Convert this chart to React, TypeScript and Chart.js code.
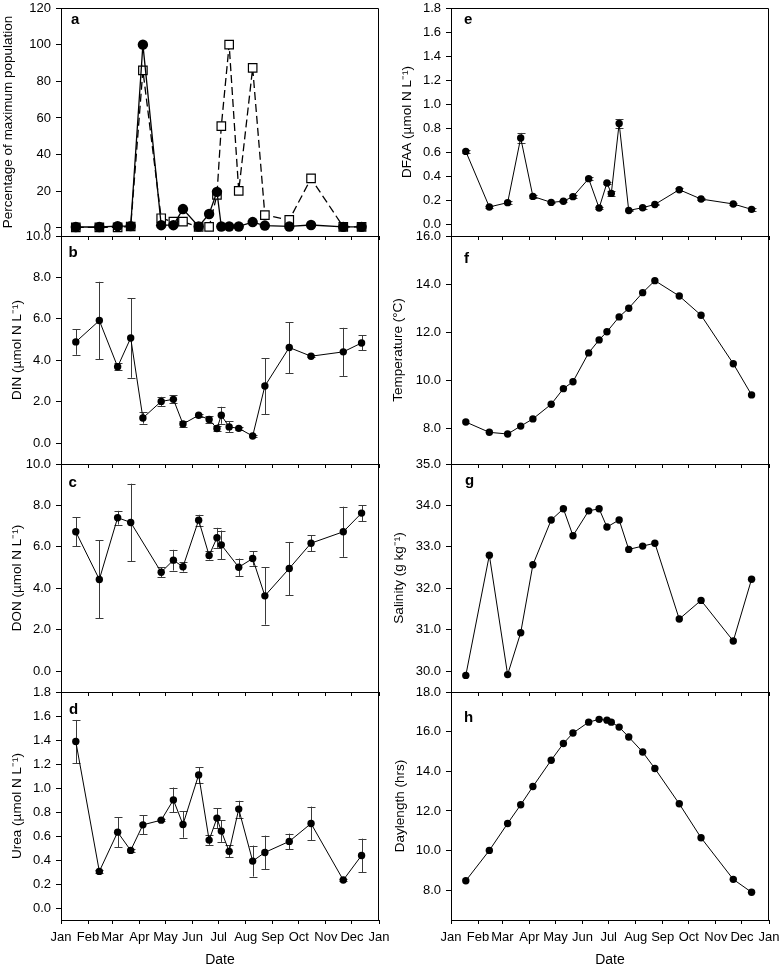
import React, { useEffect, useRef } from "react";
import { Chart, registerables } from "chart.js";

Chart.register(...registerables);

const FONT = "'Liberation Sans', Arial, Helvetica, sans-serif";

// ---------- x axis (day of year) ----------
const MONTH_STARTS = [0, 31, 59, 90, 120, 151, 181, 212, 243, 273, 304, 334, 365];
const MONTH_LABELS = ["Jan", "Feb", "Mar", "Apr", "May", "Jun", "Jul", "Aug", "Sep", "Oct", "Nov", "Dec", "Jan"];

// sampling dates, day of year
const SAMPLE_DAYS = [17, 44, 65, 80, 94, 115, 129, 140, 158, 170, 179, 184, 193, 204, 220, 234, 262, 287, 324, 345];

// ---------- panel a: percentage of maximum population ----------
const POP_CIRCLES = [0.5, 0.5, 1, 1, 100, 1.5, 1.5, 10.3, 0.8, 7.6, 19.7, 0.8, 0.8, 0.8, 3.2, 1.3, 0.8, 1.6, 0.6, 0.6];
const POP_SQUARES = [0.3, 0.3, 0.3, 0.8, 86, 5.3, 3.4, 3.4, 0.5, 0.6, 18, 55.5, 100, 20.2, 87.3, 7, 4.4, 27, 0.6, 0.6];
const TICKS_A = [0, 20, 40, 60, 80, 100, 120];

// ---------- panel b: DIN ----------
const DIN = [4.89, 5.92, 3.69, 5.08, 1.22, 2.02, 2.12, 0.93, 1.35, 1.15, 0.71, 1.35, 0.79, 0.72, 0.35, 2.76, 4.62, 4.2, 4.41, 4.84];
const DIN_ERR = [0.62, 1.87, 0.16, 1.92, 0.27, 0.22, 0.2, 0.14, 0.06, 0.16, 0.1, 0.41, 0.27, 0.08, 0.07, 1.35, 1.23, 0.05, 1.16, 0.36];
const TICKS_B = [0, 2, 4, 6, 8, 10];

// ---------- panel c: DON ----------
const DON = [6.73, 4.43, 7.41, 7.18, null, 4.78, 5.36, 5.04, 7.29, 5.59, 6.44, 6.1, null, 5.02, 5.44, 3.64, 4.96, 6.18, 6.73, 7.63];
const DON_ERR = [0.7, 1.88, 0.33, 1.87, null, 0.25, 0.5, 0.23, 0.26, 0.2, 0.48, 0.69, null, 0.42, 0.34, 1.39, 1.28, 0.39, 1.21, 0.38];
const TICKS_C = [0, 2, 4, 6, 8, 10];

// ---------- panel d: Urea ----------
const UREA = [1.387, 0.305, 0.632, 0.48, 0.693, 0.732, 0.901, 0.696, 1.109, 0.566, 0.749, 0.641, 0.472, 0.824, 0.391, 0.463, 0.555, 0.704, 0.233, 0.438];
const UREA_ERR = [0.18, 0.012, 0.125, 0.015, 0.078, 0.01, 0.103, 0.11, 0.065, 0.04, 0.083, 0.09, 0.05, 0.07, 0.129, 0.14, 0.065, 0.141, 0.012, 0.14];
const TICKS_D = [0, 0.2, 0.4, 0.6, 0.8, 1.0, 1.2, 1.4, 1.6, 1.8];

// ---------- panel e: DFAA ----------
const DFAA = [0.605, 0.142, 0.178, 0.717, 0.23, 0.18, 0.19, 0.228, 0.378, 0.133, 0.342, 0.255, 0.838, 0.113, 0.136, 0.163, 0.286, 0.208, 0.167, 0.122];
const DFAA_ERR = [0.01, 0.01, 0.01, 0.042, 0.01, 0.005, 0.01, 0.01, 0.01, 0.01, 0.01, 0.02, 0.0375, 0.005, 0.01, 0.005, 0.01, 0.005, 0.005, 0.01];
const TICKS_E = [0, 0.2, 0.4, 0.6, 0.8, 1.0, 1.2, 1.4, 1.6, 1.8];

// ---------- panel f: Temperature ----------
const TEMPERATURE = [8.25, 7.82, 7.75, 8.08, 8.38, 8.99, 9.64, 9.93, 11.13, 11.67, 12.01, null, 12.63, 12.99, 13.64, 14.14, 13.5, 12.7, 10.68, 9.38];
const TICKS_F = [8, 10, 12, 14, 16];

// ---------- panel g: Salinity ----------
const SALINITY = [29.9, 32.8, 29.92, 30.93, 32.57, 33.65, 33.92, 33.27, 33.87, 33.92, 33.48, null, 33.65, 32.94, 33.02, 33.09, 31.26, 31.71, 30.73, 32.22];
const TICKS_G = [30, 31, 32, 33, 34, 35];

// ---------- panel h: Daylength ----------
const DAYLENGTH = [8.48, 10.01, 11.37, 12.31, 13.23, 14.56, 15.4, 15.93, 16.48, 16.62, 16.58, 16.48, 16.23, 15.73, 14.97, 14.14, 12.36, 10.65, 8.55, 7.9];
const TICKS_H = [8, 10, 12, 14, 16, 18];

// ---------- layout ----------
type SeriesStyle = "dot" | "bigdot" | "square";
type Series = { values: (number | null)[]; errors?: (number | null)[]; style: SeriesStyle };
type PanelCfg = {
  letter: string;
  col: number;
  row: number;
  title: string;
  min: number;
  max: number;
  ticks: number[];
  decimals: number;
  titleCenter: number;
  letterDx: number;
  letterDy: number;
  series: Series[];
};

const COL_LEFT = [0, 392];
const AXIS_WIDTH = [61, 59];
const PLOT_W = 318;
const RIGHT_PAD = 22;
const PLOT_TOPS = [8, 236, 464, 692];
const PLOT_H = 228;
const TOP_PAD = 16;
const BOTTOM_AXIS_H = 50;
const INNER_AXIS_H = 16;

const PANELS: PanelCfg[] = [
  { letter: "a", col: 0, row: 0, title: "Percentage of maximum population", min: -4.4, max: 120, ticks: TICKS_A, decimals: 0, titleCenter: 8, letterDx: 10, letterDy: 15.5,
    series: [{ values: POP_CIRCLES, style: "bigdot" }, { values: POP_SQUARES, style: "square" }] },
  { letter: "b", col: 0, row: 1, title: "DIN (µmol N L\u207B\u00B9)", min: -1, max: 10, ticks: TICKS_B, decimals: 1, titleCenter: 17, letterDx: 7.5, letterDy: 21,
    series: [{ values: DIN, errors: DIN_ERR, style: "dot" }] },
  { letter: "c", col: 0, row: 2, title: "DON (µmol N L\u207B\u00B9)", min: -1, max: 10, ticks: TICKS_C, decimals: 1, titleCenter: 17, letterDx: 7.5, letterDy: 22.5,
    series: [{ values: DON, errors: DON_ERR, style: "dot" }] },
  { letter: "d", col: 0, row: 3, title: "Urea (µmol N L\u207B\u00B9)", min: -0.1, max: 1.8, ticks: TICKS_D, decimals: 1, titleCenter: 17, letterDx: 8, letterDy: 21.5,
    series: [{ values: UREA, errors: UREA_ERR, style: "dot" }] },
  { letter: "e", col: 1, row: 0, title: "DFAA (µmol N L\u207B\u00B9)", min: -0.1, max: 1.8, ticks: TICKS_E, decimals: 1, titleCenter: 15, letterDx: 13, letterDy: 15.5,
    series: [{ values: DFAA, errors: DFAA_ERR, style: "dot" }] },
  { letter: "f", col: 1, row: 1, title: "Temperature (°C)", min: 6.5, max: 16, ticks: TICKS_F, decimals: 1, titleCenter: 6.5, letterDx: 13, letterDy: 26.5,
    series: [{ values: TEMPERATURE, style: "dot" }] },
  { letter: "g", col: 1, row: 2, title: "Salinity (g kg\u207B\u00B9)", min: 29.5, max: 35, ticks: TICKS_G, decimals: 1, titleCenter: 7.5, letterDx: 14, letterDy: 20.5,
    series: [{ values: SALINITY, style: "dot" }] },
  { letter: "h", col: 1, row: 3, title: "Daylength (hrs)", min: 6.5, max: 18, ticks: TICKS_H, decimals: 1, titleCenter: 8, letterDx: 13, letterDy: 30,
    series: [{ values: DAYLENGTH, style: "dot" }] },
];

function datasetFor(s: Series) {
  const data = SAMPLE_DAYS.map((d, i) => ({ x: d, y: s.values[i] }));
  const base: any = {
    data,
    borderColor: "#000",
    spanGaps: true,
    tension: 0,
    fill: false,
    clip: false,
  };
  if (s.style === "dot") {
    return { ...base, borderWidth: 1, pointRadius: 3.7, pointHoverRadius: 3.7, pointBackgroundColor: "#000", pointBorderColor: "#000", pointBorderWidth: 0 };
  }
  if (s.style === "bigdot") {
    return { ...base, borderWidth: 1.3, pointRadius: 5.2, pointHoverRadius: 5.2, pointBackgroundColor: "#000", pointBorderColor: "#000", pointBorderWidth: 0 };
  }
  return { ...base, borderWidth: 1.3, borderDash: [8, 4], pointStyle: "rect", pointRadius: 6, pointHoverRadius: 6, pointBackgroundColor: "#fff", pointBorderColor: "#000", pointBorderWidth: 1.2 };
}

function Panel({ cfg }: { cfg: PanelCfg }) {
  const ref = useRef<HTMLCanvasElement>(null);
  const isBottom = cfg.row === 3;
  const axisH = isBottom ? BOTTOM_AXIS_H : INNER_AXIS_H;
  const canvasTop = PLOT_TOPS[cfg.row] - TOP_PAD;
  const canvasH = TOP_PAD + PLOT_H + axisH;
  const canvasW = AXIS_WIDTH[cfg.col] + PLOT_W + RIGHT_PAD;
  const left = COL_LEFT[cfg.col];

  useEffect(() => {
    const titleFontSize = 13.5;
    const titleLH = titleFontSize * 1.2;
    const errPlugin = {
      id: "errbars" + cfg.letter,
      beforeDatasetsDraw(chart: any) {
        const ctx = chart.ctx;
        const xs = chart.scales.x;
        const ys = chart.scales.y;
        ctx.save();
        ctx.strokeStyle = "#3a3a3a";
        ctx.lineWidth = 1;
        cfg.series.forEach((s) => {
          if (!s.errors) return;
          s.values.forEach((v, i) => {
            const e = s.errors![i];
            if (v === null || e === null || e === undefined) return;
            const x = Math.round(xs.getPixelForValue(SAMPLE_DAYS[i])) + 0.5;
            const y1 = ys.getPixelForValue(v + e);
            const y2 = ys.getPixelForValue(v - e);
            ctx.beginPath();
            ctx.moveTo(x, y1);
            ctx.lineTo(x, y2);
            ctx.moveTo(x - 4, Math.round(y1) + 0.5);
            ctx.lineTo(x + 4, Math.round(y1) + 0.5);
            ctx.moveTo(x - 4, Math.round(y2) + 0.5);
            ctx.lineTo(x + 4, Math.round(y2) + 0.5);
            ctx.stroke();
          });
        });
        ctx.restore();
      },
    };
    const frame = {
      id: "frame" + cfg.letter,
      afterDraw(chart: any) {
        const ctx = chart.ctx;
        const a = chart.chartArea;
        ctx.save();
        ctx.strokeStyle = "#000";
        ctx.lineWidth = 1;
        const r = Math.round(a.right) - 0.5;
        const t = Math.round(a.top) + 0.5;
        ctx.beginPath();
        ctx.moveTo(Math.round(a.left), t);
        ctx.lineTo(r, t);
        ctx.lineTo(r, Math.round(a.bottom));
        ctx.stroke();
        ctx.font = `bold 15px ${FONT}`;
        ctx.fillStyle = "#000";
        ctx.textBaseline = "alphabetic";
        ctx.textAlign = "left";
        ctx.fillText(cfg.letter, a.left + cfg.letterDx, a.top + cfg.letterDy);
        ctx.restore();
      },
    };

    const chart = new Chart(ref.current as HTMLCanvasElement, {
      type: "line",
      data: { datasets: cfg.series.map(datasetFor) as any },
      options: {
        responsive: false,
        animation: false,
        events: [],
        layout: { padding: { top: TOP_PAD, bottom: 0, left: 0, right: RIGHT_PAD } },
        plugins: { legend: { display: false }, tooltip: { enabled: false } },
        scales: {
          x: {
            type: "linear",
            position: "bottom",
            min: 0,
            max: 365,
            afterBuildTicks: (s: any) => {
              s.ticks = MONTH_STARTS.map((v) => ({ value: v }));
            },
            ticks: {
              display: isBottom,
              autoSkip: false,
              maxRotation: 0,
              minRotation: 0,
              padding: 6,
              color: "#000",
              font: { family: FONT, size: 13 },
              callback: (v: any) => MONTH_LABELS[MONTH_STARTS.indexOf(Number(v))],
            },
            grid: { display: true, drawOnChartArea: false, drawTicks: true, tickLength: 4, color: "#000", lineWidth: 1 },
            border: { display: true, color: "#000", width: 1 },
            title: {
              display: isBottom,
              text: "Date",
              color: "#000",
              font: { family: FONT, size: 14 },
              padding: { top: 0, bottom: 1.5 },
            },
            afterFit: (s: any) => {
              s.height = axisH;
            },
          } as any,
          y: {
            type: "linear",
            min: cfg.min,
            max: cfg.max,
            afterBuildTicks: (s: any) => {
              s.ticks = cfg.ticks.map((v) => ({ value: v }));
            },
            ticks: {
              padding: 5,
              color: "#000",
              font: { family: FONT, size: 13 },
              callback: (v: any) => Number(v).toFixed(cfg.decimals),
            },
            grid: { display: true, drawOnChartArea: false, drawTicks: true, tickLength: 5, color: "#000", lineWidth: 1 },
            border: { display: true, color: "#000", width: 1 },
            title: {
              display: true,
              text: cfg.title,
              color: "#000",
              font: { family: FONT, size: titleFontSize },
              padding: { top: cfg.titleCenter - titleLH / 2, bottom: 0 },
            },
            afterFit: (s: any) => {
              s.width = AXIS_WIDTH[cfg.col];
            },
          } as any,
        },
      },
      plugins: [errPlugin, frame],
    });
    return () => chart.destroy();
  }, []);

  return (
    <canvas
      ref={ref}
      width={canvasW}
      height={canvasH}
      style={{ position: "absolute", left, top: canvasTop, width: canvasW, height: canvasH }}
    />
  );
}

export default function App() {
  return (
    <div style={{ position: "absolute", left: 0, top: 0, width: 784, height: 970, background: "#fff", overflow: "hidden" }}>
      {PANELS.map((p) => (
        <Panel key={p.letter} cfg={p} />
      ))}
    </div>
  );
}
